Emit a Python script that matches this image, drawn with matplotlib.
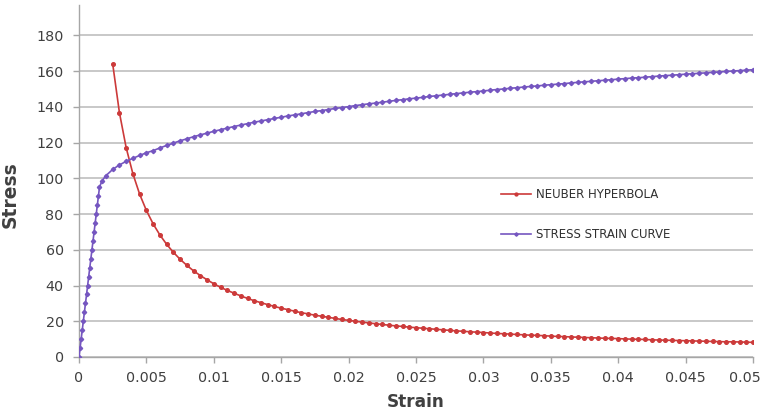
import matplotlib
matplotlib.use("Agg")
import matplotlib.pyplot as plt
import matplotlib.transforms as mtransforms
from matplotlib.ticker import FuncFormatter

# ── Data ────────────────────────────────────────────────────────
# regular strain grid used by both curves (0.002 ... 0.05)
STRAIN_GRID = [
    0.0020, 0.0025, 0.0030, 0.0035, 0.0040, 0.0045, 0.0050, 0.0055, 0.0060, 0.0065,
    0.0070, 0.0075, 0.0080, 0.0085, 0.0090, 0.0095, 0.0100, 0.0105, 0.0110, 0.0115,
    0.0120, 0.0125, 0.0130, 0.0135, 0.0140, 0.0145, 0.0150, 0.0155, 0.0160, 0.0165,
    0.0170, 0.0175, 0.0180, 0.0185, 0.0190, 0.0195, 0.0200, 0.0205, 0.0210, 0.0215,
    0.0220, 0.0225, 0.0230, 0.0235, 0.0240, 0.0245, 0.0250, 0.0255, 0.0260, 0.0265,
    0.0270, 0.0275, 0.0280, 0.0285, 0.0290, 0.0295, 0.0300, 0.0305, 0.0310, 0.0315,
    0.0320, 0.0325, 0.0330, 0.0335, 0.0340, 0.0345, 0.0350, 0.0355, 0.0360, 0.0365,
    0.0370, 0.0375, 0.0380, 0.0385, 0.0390, 0.0395, 0.0400, 0.0405, 0.0410, 0.0415,
    0.0420, 0.0425, 0.0430, 0.0435, 0.0440, 0.0445, 0.0450, 0.0455, 0.0460, 0.0465,
    0.0470, 0.0475, 0.0480, 0.0485, 0.0490, 0.0495, 0.0500,
]

# Neuber hyperbola, starts at 0.0025
neuber_strain = STRAIN_GRID[1:]
neuber_stress = [
    164.0, 136.7, 117.1, 102.5, 91.1, 82.0, 74.5, 68.3, 63.1, 58.6,
    54.7, 51.3, 48.2, 45.6, 43.2, 41.0, 39.0, 37.3, 35.7, 34.2,
    32.8, 31.5, 30.4, 29.3, 28.3, 27.3, 26.5, 25.6, 24.8, 24.1,
    23.4, 22.8, 22.2, 21.6, 21.0, 20.5, 20.0, 19.5, 19.1, 18.6,
    18.2, 17.8, 17.4, 17.1, 16.7, 16.4, 16.1, 15.8, 15.5, 15.2,
    14.9, 14.6, 14.4, 14.1, 13.9, 13.7, 13.4, 13.2, 13.0, 12.8,
    12.6, 12.4, 12.2, 12.1, 11.9, 11.7, 11.5, 11.4, 11.2, 11.1,
    10.9, 10.8, 10.6, 10.5, 10.4, 10.3, 10.1, 10.0, 9.9, 9.8,
    9.6, 9.5, 9.4, 9.3, 9.2, 9.1, 9.0, 8.9, 8.8, 8.7,
    8.6, 8.5, 8.5, 8.4, 8.3, 8.2,
]

# stress-strain curve: elastic part then plastic part
elastic_strain = [
    0.0, 0.00008, 0.00016, 0.00024, 0.00032, 0.0004, 0.00048, 0.00056, 0.00064, 0.00072,
    0.0008, 0.00088, 0.00096, 0.00104, 0.00112, 0.0012, 0.00128, 0.00136, 0.00144, 0.00152,
    0.0017,
]
elastic_stress = [
    0, 5, 10, 15, 20, 25, 30, 35, 40, 45,
    50, 55, 60, 65, 70, 75, 80, 85, 90, 95,
    98.5,
]
plastic_stress = [
    101.5, 105.0, 107.5, 109.5, 111.2, 112.8, 114.3, 115.5, 117.0, 118.4,
    119.7, 121.0, 122.1, 123.3, 124.3, 125.3, 126.3, 127.2, 128.1, 129.0,
    129.8, 130.6, 131.4, 132.1, 132.8, 133.5, 134.2, 134.9, 135.5, 136.1,
    136.8, 137.4, 137.9, 138.5, 139.1, 139.6, 140.1, 140.7, 141.2, 141.7,
    142.1, 142.6, 143.1, 143.6, 144.0, 144.5, 144.9, 145.3, 145.8, 146.2,
    146.6, 147.0, 147.4, 147.8, 148.2, 148.5, 148.9, 149.3, 149.7, 150.0,
    150.4, 150.7, 151.1, 151.4, 151.7, 152.1, 152.4, 152.7, 153.0, 153.4,
    153.7, 154.0, 154.3, 154.6, 154.9, 155.2, 155.5, 155.8, 156.1, 156.3,
    156.6, 156.9, 157.2, 157.5, 157.7, 158.0, 158.3, 158.5, 158.8, 159.0,
    159.3, 159.5, 159.8, 160.0, 160.3, 160.5, 160.8,
]
curve_strain = elastic_strain + STRAIN_GRID
curve_stress = elastic_stress + plastic_stress

X_TICKS = [0, 0.005, 0.01, 0.015, 0.02, 0.025, 0.03, 0.035, 0.04, 0.045, 0.05]
Y_TICKS = [0, 20, 40, 60, 80, 100, 120, 140, 160, 180]

RED = "#cc3a3a"
PURPLE = "#7556c0"
GRID = "#c4c4c4"
TEXT = "#404040"
# ────────────────────────────────────────────────────────────────

plt.rcParams["font.family"] = ["DejaVu Sans"]

fig = plt.figure(figsize=(7.62, 4.18), dpi=100)
ax = fig.add_axes([79 / 762, 61 / 418, 674 / 762, 352 / 418])

ax.plot(neuber_strain, neuber_stress, color=RED, linewidth=1.2,
        marker="o", markersize=2.6, label="NEUBER HYPERBOLA", zorder=3)
ax.plot(curve_strain, curve_stress, color=PURPLE, linewidth=1.2,
        marker="D", markersize=2.2, label="STRESS STRAIN CURVE", zorder=4)

ax.set_xlim(0, 0.05)
ax.set_ylim(0, 197)
ax.set_xticks(X_TICKS)
ax.set_yticks(Y_TICKS)
ax.xaxis.set_major_formatter(FuncFormatter(lambda v, p: f"{v:g}"))

ax.grid(axis="y", color=GRID, linewidth=1.3)
ax.set_axisbelow(True)
for side in ("top", "right"):
    ax.spines[side].set_visible(False)
for side in ("left", "bottom"):
    ax.spines[side].set_color("#a6a6a6")
    ax.spines[side].set_linewidth(1.0)

ax.tick_params(axis="both", colors="#a6a6a6", labelcolor=TEXT, labelsize=10.3,
               length=4, width=1.0)
ax.tick_params(axis="y", pad=7)
ax.tick_params(axis="x", pad=6)

# last x label sits against the right edge, as in the original
fig.canvas.draw()
last = ax.get_xticklabels()[-1]
last.set_horizontalalignment("right")
last.set_transform(last.get_transform() +
                   mtransforms.ScaledTranslation(8 / 100, 0, fig.dpi_scale_trans))

ax.set_xlabel("Strain", fontsize=12.2, fontweight="bold", color=TEXT, labelpad=6)
ax.set_ylabel("Stress", fontsize=13.5, fontweight="bold", color=TEXT)
ax.yaxis.set_label_coords(-0.088, 0.46)

leg = ax.legend(loc="upper left", bbox_to_anchor=(0.61, 0.51), frameon=False,
                fontsize=8.5, labelspacing=2.3, handlelength=2.6,
                handletextpad=0.35, markerscale=0.8)
for t in leg.get_texts():
    t.set_color("#303030")

fig.savefig("out.png", dpi=100)
